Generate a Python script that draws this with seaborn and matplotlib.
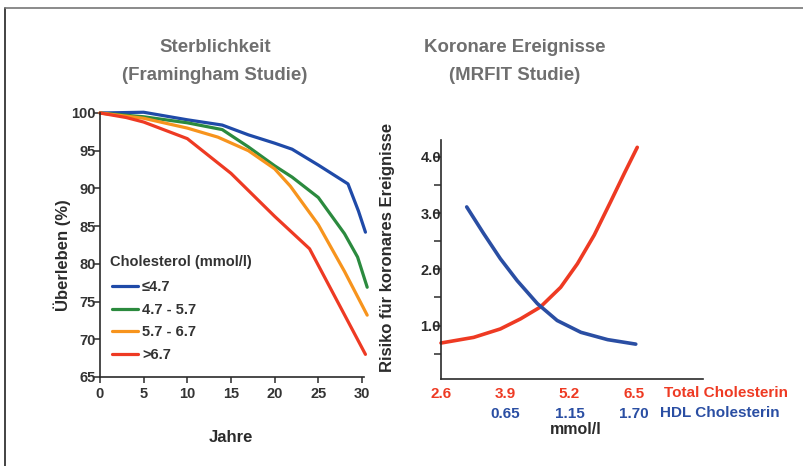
import numpy as np
import pandas as pd
import matplotlib
matplotlib.use("Agg")
import matplotlib.pyplot as plt
import seaborn as sns
from matplotlib.lines import Line2D

# ---------------- data ----------------
groups = ["≤4.7", "4.7 - 5.7", "5.7 - 6.7", ">6.7"]
group_colors = ["#1f4aa8", "#2b8a3e", "#f7941d", "#ee3a23"]

years_g1 = [0, 5, 8, 10, 14, 17, 20, 22, 25, 28.4, 29.6, 30.4]
surv_g1 = [100, 100.1, 99.5, 99.1, 98.4, 97.1, 96.0, 95.2, 93.1, 90.6, 87.0, 84.2]
years_g2 = [0, 5, 10, 14, 17, 20, 22, 25, 28, 29.5, 30.6]
surv_g2 = [100, 99.5, 98.7, 97.8, 95.5, 93.0, 91.5, 88.8, 84.0, 80.9, 76.9]
years_g3 = [0, 5, 10, 13.5, 17, 20, 21.8, 25, 28, 30.6]
surv_g3 = [100, 99.3, 98.0, 96.8, 95.0, 92.6, 90.3, 85.2, 79.0, 73.2]
years_g4 = [0, 3, 5, 10, 15, 20, 24, 30.4]
surv_g4 = [100, 99.4, 98.8, 96.6, 92.0, 86.3, 82.0, 68.0]

left_xticks = [0, 5, 10, 15, 20, 25, 30]
left_yticks = [65, 70, 75, 80, 85, 90, 95, 100]
legend_title = "Cholesterol (mmol/l)"

# right panel (x in Total-Cholesterol axis units)
total_x = [2.6, 3.26, 3.80, 4.21, 4.61, 5.02, 5.36, 5.70, 6.03, 6.31, 6.57]
total_risk = [0.69, 0.79, 0.94, 1.12, 1.33, 1.68, 2.10, 2.61, 3.20, 3.71, 4.17]
hdl_x = [3.12, 3.46, 3.80, 4.14, 4.55, 4.95, 5.43, 5.97, 6.54]
hdl_risk = [3.11, 2.64, 2.19, 1.80, 1.39, 1.09, 0.88, 0.75, 0.67]

total_ticks = [2.6, 3.9, 5.2, 6.5]
total_ticklabels = ["2.6", "3.9", "5.2", "6.5"]
hdl_ticks = [3.9, 5.2, 6.5]
hdl_ticklabels = ["0.65", "1.15", "1.70"]
risk_ticks = [0.5, 1.0, 1.5, 2.0, 2.5, 3.0, 3.5, 4.0]
risk_ticklabels = ["", "1.0", "", "2.0", "", "3.0", "", "4.0"]

RED = "#ee3a23"
BLUE = "#2a4ea3"
DARK = "#2b2b2b"
GRAY = "#6f6f6f"

# ---------------- style ----------------
sns.set_style("ticks")
plt.rcParams["font.family"] = ["Liberation Sans", "DejaVu Sans"]
plt.rcParams["font.weight"] = "bold"

W, H = 804, 466
fig = plt.figure(figsize=(W / 100, H / 100), dpi=100)


def ax_px(l, r, t, b):
    return fig.add_axes([l / W, 1 - b / H, (r - l) / W, (b - t) / H])


# ---------------- left panel ----------------
axL = ax_px(100, 363.7, 113, 377)
df_left = pd.concat([
    pd.DataFrame({"Jahre": x, "Überleben": y, "Gruppe": g})
    for x, y, g in zip([years_g1, years_g2, years_g3, years_g4],
                       [surv_g1, surv_g2, surv_g3, surv_g4], groups)
])
sns.lineplot(data=df_left, x="Jahre", y="Überleben", hue="Gruppe",
             hue_order=groups, palette=group_colors, sort=False,
             estimator=None, lw=2.3, ax=axL, legend=False)
for ln in axL.lines:
    ln.set_clip_on(False)
    ln.set_solid_joinstyle("round")
axL.set_xlim(0, 30.2)
axL.set_ylim(65, 100)
axL.set_xticks(left_xticks)
axL.set_yticks(left_yticks)
axL.set_xticklabels([str(v) for v in left_xticks])
axL.set_yticklabels([str(v) for v in left_yticks])
for s in ["top", "right"]:
    axL.spines[s].set_visible(False)
for s in ["left", "bottom"]:
    axL.spines[s].set_color(DARK)
    axL.spines[s].set_linewidth(1.2)
axL.tick_params(axis="both", colors=DARK, labelsize=10.5, length=4, width=1.1)
axL.tick_params(axis="y", pad=-1)
axL.tick_params(axis="x", pad=3)
for t in axL.get_xticklabels() + axL.get_yticklabels():
    t.set_fontweight("bold")
    t.set_color("#333333")
axL.set_xlabel("Jahre", fontsize=12, fontweight="bold", color=DARK)
axL.set_ylabel("Überleben (%)", fontsize=12, fontweight="bold", color=DARK)
axL.xaxis.set_label_coords(0.497, -0.2)
axL.yaxis.set_label_coords(-0.11, 0.46)

handles = [Line2D([0], [0], color=c, lw=2.3) for c in group_colors]
leg = axL.legend(handles, groups,
                 loc="upper left", bbox_to_anchor=(112 / W, 1 - 280 / H),
                 bbox_transform=fig.transFigure, frameon=False,
                 borderaxespad=0, borderpad=0, handlelength=1.75,
                 handletextpad=0.3, labelspacing=0.59,
                 prop={"size": 10.5, "weight": "bold"})
for t in leg.get_texts():
    t.set_color("#333333")
fig.text(110 / W, 1 - 262 / H, legend_title, ha="left", va="center",
         fontsize=10.5, fontweight="bold", color="#333333")

# ---------------- right panel ----------------
axR = ax_px(441, 703, 140, 379)
df_total = pd.DataFrame({"x": total_x, "risk": total_risk})
df_hdl = pd.DataFrame({"x": hdl_x, "risk": hdl_risk})
sns.lineplot(data=df_total, x="x", y="risk", color=RED, lw=2.6,
             sort=False, estimator=None, ax=axR)
sns.lineplot(data=df_hdl, x="x", y="risk", color=BLUE, lw=2.6,
             sort=False, estimator=None, ax=axR)
for ln in axR.lines:
    ln.set_clip_on(False)
    ln.set_solid_joinstyle("round")
axR.set_xlim(2.6, 7.9)
axR.set_ylim(0.05, 4.3)
axR.set_xticks(total_ticks)
axR.set_xticklabels(total_ticklabels)
axR.set_yticks(risk_ticks)
axR.set_yticklabels(risk_ticklabels)
for s in ["top", "right"]:
    axR.spines[s].set_visible(False)
for s in ["left", "bottom"]:
    axR.spines[s].set_color(DARK)
    axR.spines[s].set_linewidth(1.2)
axR.tick_params(axis="x", length=0, pad=6, labelsize=11, labelcolor=RED)
axR.tick_params(axis="y", length=5, width=1.1, pad=-5, labelsize=10.5,
                colors=DARK)
for t in axR.get_xticklabels() + axR.get_yticklabels():
    t.set_fontweight("bold")
axR.set_xlabel("")
axR.set_ylabel("Risiko für koronares Ereignisse", fontsize=12,
               fontweight="bold", color=DARK)
axR.yaxis.set_label_coords(-0.176, 0.552)

trans = axR.get_xaxis_transform()
for xv, lab in zip(hdl_ticks, hdl_ticklabels):
    axR.text(xv, -0.145, lab, transform=trans, ha="center", va="center",
             fontsize=11, fontweight="bold", color=BLUE)
axR.text(664 / W, 1 - 393 / H, "Total Cholesterin", transform=fig.transFigure,
         ha="left", va="center", fontsize=11, fontweight="bold", color=RED)
axR.text(660 / W, 1 - 413 / H, "HDL Cholesterin", transform=fig.transFigure,
         ha="left", va="center", fontsize=11, fontweight="bold", color=BLUE)
fig.text(576 / W, 1 - 429 / H, "mmol/l", ha="center", va="center",
         fontsize=11.5, fontweight="bold", color=DARK)

# ---------------- titles ----------------
for cx, lines in [(215, ["Sterblichkeit", "(Framingham Studie)"]),
                  (515, ["Koronare Ereignisse", "(MRFIT Studie)"])]:
    for cy, txt in zip([47, 75], lines):
        fig.text(cx / W, 1 - cy / H, txt, ha="center", va="center",
                 fontsize=13.4, fontweight="bold", color=GRAY)

# ---------------- frame ----------------
fig.add_artist(Line2D([5 / W, 5 / W], [0, 1 - 8 / H], color="#222222",
                      lw=1.2, transform=fig.transFigure))
fig.add_artist(Line2D([5 / W, 1], [1 - 8 / H, 1 - 8 / H], color="#777777",
                      lw=1.2, transform=fig.transFigure))

fig.savefig("out.png", dpi=100)
